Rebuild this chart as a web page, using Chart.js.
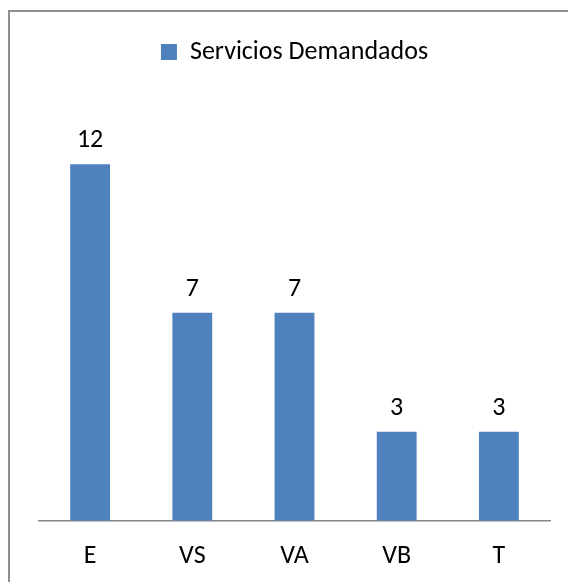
<!DOCTYPE html>
<html>
<head>
<meta charset="utf-8">
<script src="https://cdn.jsdelivr.net/npm/chart.js@4"></script>
<style>
  html, body { margin: 0; padding: 0; background: #fff; overflow: hidden; }
  #frame { position: absolute; left: 8px; top: 10px; width: 700px; height: 700px;
           border-left: 2px solid #8e8e8e; border-top: 2px solid #8e8e8e; }
  #wrap { position: absolute; left: 0; top: 0; width: 568px; height: 604px; }
</style>
</head>
<body>
<div id="frame"></div>
<div id="wrap"><canvas id="chart" width="568" height="604"></canvas></div>
<script>
const categories = ['E', 'VS', 'VA', 'VB', 'T'];
const servicios = [12, 7, 7, 3, 3];
const seriesName = 'Servicios Demandados';

const fontFamily = 'Carlito, Lato, "Liberation Sans", sans-serif';
const fontSize = 26;

// dibuja los valores encima de cada barra
const valueLabels = {
    id: 'valueLabels',
    afterDatasetsDraw(chart) {
        const ctx = chart.ctx;
        const meta = chart.getDatasetMeta(0);
        ctx.save();
        ctx.fillStyle = '#000';
        ctx.font = `${fontSize}px ${fontFamily}`;
        ctx.textAlign = 'center';
        ctx.textBaseline = 'alphabetic';
        meta.data.forEach((bar, i) => {
            ctx.fillText(chart.data.datasets[0].data[i], bar.x, bar.y - 17);
        });
        ctx.restore();
    }
};

const ctx = document.getElementById('chart').getContext('2d');
new Chart(ctx, {
    type: 'bar',
    data: {
        labels: categories,
        datasets: [{
            label: seriesName,
            data: servicios,
            backgroundColor: '#4f81bd',
            borderWidth: 0,
            barPercentage: 0.39,
            categoryPercentage: 1.0
        }]
    },
    options: {
        responsive: false,
        animation: false,
        layout: { padding: { top: 29, left: 39, right: 18, bottom: 12 } },
        plugins: {
            legend: {
                position: 'top',
                labels: {
                    boxWidth: 16,
                    boxHeight: 16,
                    color: '#000',
                    font: { family: fontFamily, size: fontSize }
                }
            },
            tooltip: { enabled: false }
        },
        scales: {
            x: {
                grid: { display: false, drawTicks: false },
                border: { display: true, color: '#868686', width: 1.5 },
                ticks: { color: '#000', padding: 20, font: { family: fontFamily, size: fontSize } }
            },
            y: {
                display: false,
                min: 0,
                max: 15
            }
        }
    },
    plugins: [valueLabels]
});
</script>
</body>
</html>
